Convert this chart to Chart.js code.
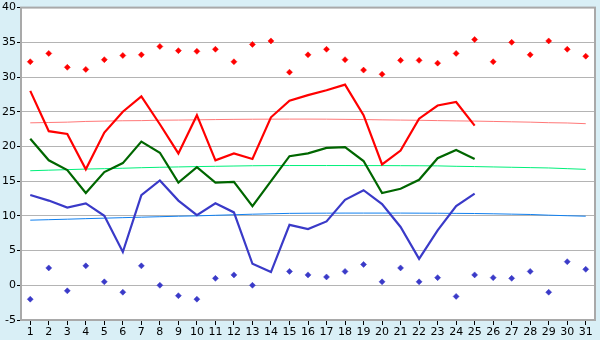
<!DOCTYPE html>
<html>
<head>
<meta charset="utf-8">
<script src="https://cdn.jsdelivr.net/npm/chart.js@4/dist/chart.umd.min.js"></script>
<style>
  html, body { margin: 0; padding: 0; background: #d9eff6; }
  #wrap { width: 600px; height: 340px; }
</style>
</head>
<body>
<div id="wrap"><canvas id="chart"></canvas></div>
<script>
// Days of the month
const days = Array.from({ length: 31 }, (_, i) => String(i + 1));

// Daily series (days 1-25)
const maxTemp = [28.0, 22.2, 21.8, 16.7, 22.0, 25.0, 27.2, 23.2, 19.0, 24.5, 18.0, 19.0, 18.2, 24.2, 26.6, 27.4, 28.1, 28.9, 24.5, 17.4, 19.4, 24.0, 25.9, 26.4, 23.0];
const meanTemp = [21.1, 18.0, 16.6, 13.3, 16.3, 17.6, 20.7, 19.1, 14.8, 17.0, 14.8, 14.9, 11.4, 15.0, 18.6, 19.0, 19.8, 19.9, 17.9, 13.3, 13.9, 15.2, 18.3, 19.5, 18.2];
const minTemp = [13.0, 12.2, 11.2, 11.8, 10.0, 4.8, 13.0, 15.1, 12.2, 10.1, 11.8, 10.5, 3.1, 1.9, 8.7, 8.1, 9.2, 12.3, 13.7, 11.7, 8.4, 3.8, 7.9, 11.4, 13.2];

// Record values (all days)
const recordHigh = [32.2, 33.4, 31.4, 31.1, 32.5, 33.1, 33.2, 34.4, 33.8, 33.7, 34.0, 32.2, 34.7, 35.2, 30.7, 33.2, 34.0, 32.5, 31.0, 30.4, 32.4, 32.4, 32.0, 33.4, 35.4, 32.2, 35.0, 33.2, 35.2, 34.0, 33.0];
const recordLow = [-2.0, 2.5, -0.8, 2.8, 0.5, -1.0, 2.8, 0.0, -1.5, -2.0, 1.0, 1.5, 0.0, null, 2.0, 1.5, 1.2, 2.0, 3.0, 0.5, 2.5, 0.5, 1.1, -1.6, 1.5, 1.1, 1.0, 2.0, -1.0, 3.4, 2.3];

// Normals (thin lines)
const normalMax = [23.4, 23.45, 23.5, 23.6, 23.65, 23.7, 23.72, 23.78, 23.8, 23.83, 23.87, 23.9, 23.92, 23.93, 23.94, 23.94, 23.93, 23.9, 23.87, 23.83, 23.8, 23.77, 23.72, 23.68, 23.65, 23.6, 23.55, 23.5, 23.42, 23.38, 23.28];
const normalMean = [16.5, 16.58, 16.66, 16.74, 16.8, 16.86, 16.94, 17.0, 17.05, 17.1, 17.14, 17.18, 17.22, 17.24, 17.25, 17.25, 17.25, 17.25, 17.24, 17.24, 17.23, 17.22, 17.2, 17.14, 17.1, 17.05, 17.0, 16.95, 16.9, 16.8, 16.7];
const normalMin = [9.38, 9.45, 9.52, 9.6, 9.67, 9.74, 9.81, 9.88, 9.95, 10.0, 10.08, 10.16, 10.24, 10.3, 10.36, 10.38, 10.39, 10.4, 10.4, 10.4, 10.4, 10.39, 10.38, 10.36, 10.34, 10.3, 10.25, 10.2, 10.1, 10.02, 9.95];

const yTicks = { min: -5, max: 40, step: 5 };

const FONT = { family: 'DejaVu Sans', size: 11 };

// white plot area + grey frame
const plotFrame = {
  id: 'plotFrame',
  beforeDraw(chart) {
    const { ctx, chartArea: a } = chart;
    ctx.save();
    ctx.fillStyle = '#ffffff';
    ctx.fillRect(a.left, a.top, a.right - a.left, a.bottom - a.top);
    ctx.restore();
  },
  afterDraw(chart) {
    const { ctx, chartArea: a } = chart;
    ctx.save();
    ctx.strokeStyle = '#a9a9a9';
    ctx.lineWidth = 2;
    ctx.strokeRect(a.left, a.top, a.right - a.left, a.bottom - a.top);
    ctx.restore();
  }
};

function lineSet(data, color, width, order) {
  return {
    type: 'line', data, borderColor: color, backgroundColor: color,
    borderWidth: width, pointRadius: 0, tension: 0, fill: false, order
  };
}

function pointSet(data, color) {
  return {
    type: 'line', data, showLine: false, borderColor: color, backgroundColor: color,
    pointStyle: 'rectRot', pointRadius: 3, pointBorderWidth: 0.5, order: 1
  };
}

new Chart(document.getElementById('chart'), {
  data: {
    labels: days,
    datasets: [
      lineSet(maxTemp, '#ff0000', 2.2, 0),
      lineSet(meanTemp, '#006600', 2.2, 0),
      lineSet(minTemp, '#3a3ac8', 2.2, 0),
      pointSet(recordHigh, '#ff0000'),
      pointSet(recordLow, '#3a3ac8'),
      lineSet(normalMax, '#ff7878', 1, 2),
      lineSet(normalMean, '#00f07a', 1, 2),
      lineSet(normalMin, '#1080f0', 1, 2)
    ]
  },
  options: {
    responsive: true,
    maintainAspectRatio: false,
    animation: false,
    layout: { padding: { top: 5, right: 5, bottom: 0, left: 0 } },
    plugins: { legend: { display: false }, tooltip: { enabled: false } },
    scales: {
      x: {
        type: 'category',
        offset: true,
        grid: { display: true, drawOnChartArea: false, tickLength: 5, color: '#000000', offset: false },
        border: { display: false },
        ticks: { color: '#000', font: FONT, padding: 1, maxRotation: 0, autoSkip: false },
        afterFit(s) { s.height = 20; }
      },
      y: {
        min: yTicks.min, max: yTicks.max,
        grid: { color: '#b4b4b4', lineWidth: 1, tickLength: 4, tickColor: '#000' },
        border: { display: false },
        ticks: { stepSize: yTicks.step, color: '#000', font: FONT, padding: 1 },
        afterFit(s) { s.width = 21; }
      }
    }
  },
  plugins: [plotFrame]
});
</script>
</body>
</html>
